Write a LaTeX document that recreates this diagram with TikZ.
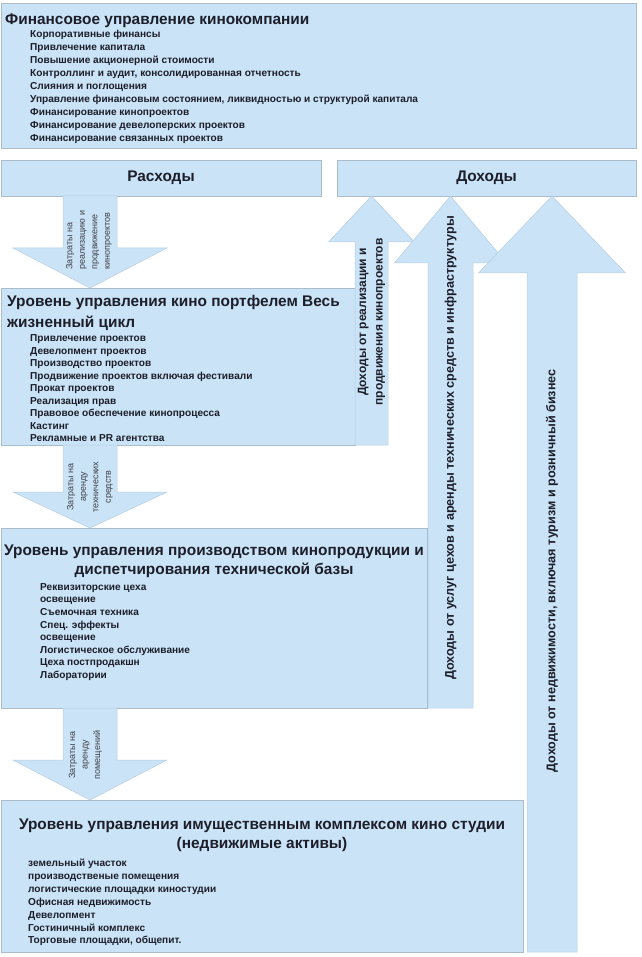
\documentclass[tikz,border=0pt]{standalone}
\usepackage{fontspec}
\setmainfont{Liberation Sans}
\usetikzlibrary{calc}

\definecolor{panelfill}{RGB}{202,227,246}
\definecolor{panelline}{RGB}{168,188,204}
\definecolor{flowline}{RGB}{182,205,225}
\definecolor{ink}{RGB}{28,30,42}

\tikzset{
  panel/.style={draw=panelline, fill=panelfill, line width=0.6pt, anchor=north west, inner sep=0pt, outer sep=0pt},
  flow/.style={fill=panelfill, draw=flowline, line width=0.5pt},
  ttl/.style={font=\fontsize{15.4}{19}\selectfont\bfseries, text=ink, inner sep=0pt},
  itm/.style={font=\fontsize{10.1}{12.5}\selectfont\bfseries, text=ink, inner sep=0pt, align=left, anchor=north west},
  upl/.style={font=\fontsize{12.6}{16.5}\selectfont\bfseries, text=ink, inner sep=0pt, align=center, rotate=90},
  dnl/.style={font=\fontsize{9}{12.5}\selectfont, text=ink!85, inner sep=0pt, rotate=90},
}

% block arrow: start, tip, shaft half width, head half width, head offset
\newcommand{\flowarrow}[5]{%
  \draw[flow] ($(#1)+(-#3,0)$) -- ($(#2)+(-#3,#5)$) -- ($(#2)+(-#4,#5)$) -- (#2)
    -- ($(#2)+(#4,#5)$) -- ($(#2)+(#3,#5)$) -- ($(#1)+(#3,0)$) -- cycle;}

\begin{document}
\begin{tikzpicture}[x=1pt, y=-1pt]
    \useasboundingbox (0,0) rectangle (641,957);

    % panels
    \node[panel, minimum width=635pt, minimum height=145pt] (fin) at (1,3) {};
    \node[panel, minimum width=320pt, minimum height=36pt, font=\fontsize{15.4}{19}\selectfont\bfseries, text=ink] (rash) at (1,160) {Расходы};
    \node[panel, minimum width=299pt, minimum height=36pt, font=\fontsize{15.4}{19}\selectfont\bfseries, text=ink] (doh) at (337,160) {Доходы};
    \node[panel, minimum width=354pt, minimum height=157pt] (port) at (1,288) {};
    \node[panel, minimum width=426pt, minimum height=180pt] (prod) at (1,528) {};
    \node[panel, minimum width=522pt, minimum height=152pt] (imu) at (1,800) {};

    % arrow axes
    \coordinate (dn) at (90,0);
    \coordinate (up1) at (371.5,0);
    \coordinate (up2) at (450.5,0);
    \coordinate (up3) at (552,0);

    \flowarrow{dn |- rash.south}{dn |- port.north}{27}{77}{-40}
    \flowarrow{dn |- port.south}{dn |- prod.north}{27}{77}{-36}
    \flowarrow{dn |- prod.south}{dn |- imu.north}{27}{77}{-40}
    \flowarrow{up1 |- port.south}{up1 |- doh.south}{16.5}{43}{46}
    \flowarrow{up2 |- prod.south}{up2 |- doh.south}{22.5}{56}{67}
    \flowarrow{up3 |- imu.south}{up3 |- doh.south}{25}{73.5}{77}

    % texts of the panels
    \node[ttl, anchor=base west] (fint) at (5,25) {Финансовое управление кинокомпании};
    \node[itm, font=\fontsize{10.1}{13}\selectfont\bfseries] (fini) at (30,30) {Корпоративные финансы\\Привлечение капитала\\Повышение акционерной стоимости\\Контроллинг и аудит, консолидированная отчетность\\Слияния и поглощения\\Управление финансовым состоянием, ликвидностью и структурой капитала\\Финансирование кинопроектов\\Финансирование девелоперских проектов\\Финансирование связанных проектов};

    \node[ttl, align=left, anchor=north west, font=\fontsize{15.4}{21}\selectfont\bfseries] (portt) at (7,295) {Уровень управления кино портфелем Весь\\жизненный цикл};
    \node[itm] (porti) at (30,334.7) {Привлечение проектов\\Девелопмент проектов\\Производство проектов\\Продвижение проектов включая фестивали\\Прокат проектов\\Реализация прав\\Правовое обеспечение кинопроцесса\\Кастинг\\Рекламные и PR агентства};

    \node[ttl, align=center, anchor=north] (prodt) at (214,545) {Уровень управления производством кинопродукции и\\диспетчирования технической базы};
    \node[itm, font=\fontsize{10.1}{12.57}\selectfont\bfseries] (prodi) at (40,583.2) {Реквизиторские цеха\\освещение\\Съемочная техника\\Спец. эффекты\\освещение\\Логистическое обслуживание\\Цеха постпродакшн\\Лаборатории};

    \node[ttl, align=center, anchor=north] (imut) at (262,819) {Уровень управления имущественным комплексом кино студии\\(недвижимые активы)};
    \node[itm, font=\fontsize{10.1}{12.83}\selectfont\bfseries] (imui) at (28,859.2) {земельный участок\\производственые помещения\\логистические площадки киностудии\\Офисная недвижимость\\Девелопмент\\Гостиничный комплекс\\Торговые площадки, общепит.};

    % texts on the arrows
    \node[upl, font=\fontsize{12}{16.5}\selectfont\bfseries] (up1t) at (371.5,322) {Доходы от реализации и\\продвижения кинопроектов};
    \node[upl] (up2t) at (450.5,448) {Доходы от услуг цехов и аренды технических средств и инфраструктуры};
    \node[upl] (up3t) at (552,571) {Доходы от недвижимости, включая туризм и розничный бизнес};

    \node[dnl, align=left, anchor=west] (dn1t) at (89,270) {Затраты на\\реализацию и\\продвижение\\кинопроектов};
    \node[dnl, align=center] (dn2t) at (90,487) {Затраты на\\аренду\\технических\\средств};
    \node[dnl, align=center] (dn3t) at (85.5,755) {Затраты на\\аренду\\помещений};
\end{tikzpicture}
\end{document}
